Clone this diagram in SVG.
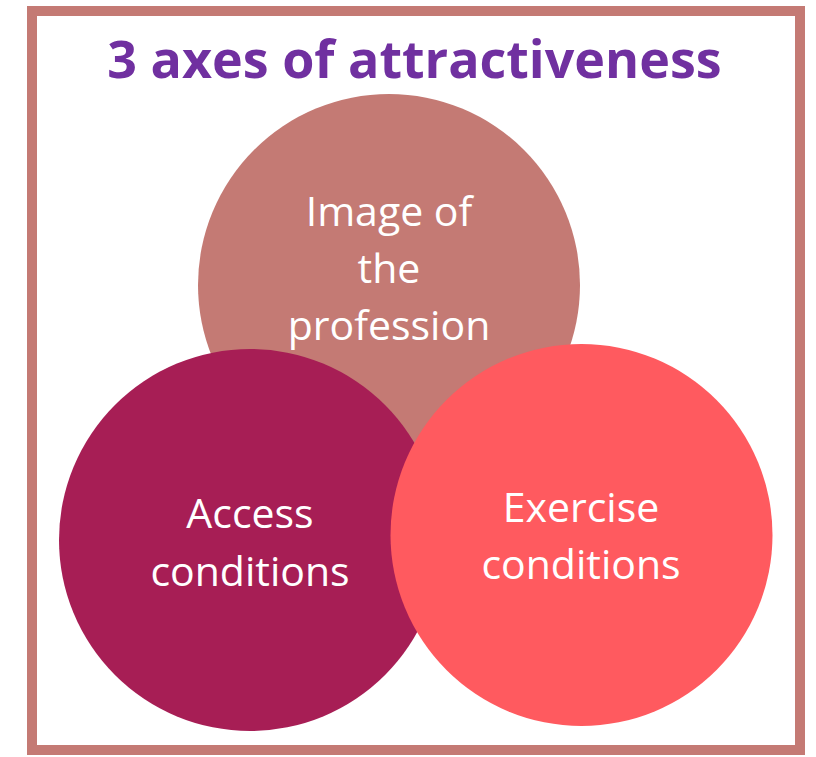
<svg xmlns="http://www.w3.org/2000/svg" width="816" height="757" viewBox="0 0 816 757">
<style>
.lbl{font-family:"Open Sans","Liberation Sans",sans-serif;font-size:41px;fill:#FFFFFF;text-anchor:middle}
.title{font-family:"Open Sans","Liberation Sans",sans-serif;font-size:52px;font-weight:bold;fill:#7030A0;text-anchor:middle}
</style>
<rect x="0" y="0" width="816" height="757" fill="#FFFFFF"/>
<g id="frame">
<rect x="32" y="11" width="768" height="739" fill="none" stroke="#C47A74" stroke-width="10"/>
</g>
<g id="title">
<text class="title" x="414.5" y="78">3 axes of attractiveness</text>
</g>
<g id="connectors"></g>
<g id="image-of-the-profession">
<circle cx="389" cy="285" r="191" fill="#C47A74"/>
<text class="lbl" x="389" y="226">Image of</text>
<text class="lbl" x="389" y="283">the</text>
<text class="lbl" x="389" y="340">profession</text>
</g>
<g id="access-conditions">
<circle cx="250" cy="540" r="191" fill="#A71E55"/>
<text class="lbl" x="250" y="528">Access</text>
<text class="lbl" x="250" y="586">conditions</text>
</g>
<g id="exercise-conditions">
<circle cx="581.5" cy="535" r="191" fill="#FF5A5F"/>
<text class="lbl" x="581" y="522">Exercise</text>
<text class="lbl" x="581" y="579">conditions</text>
</g>
</svg>
